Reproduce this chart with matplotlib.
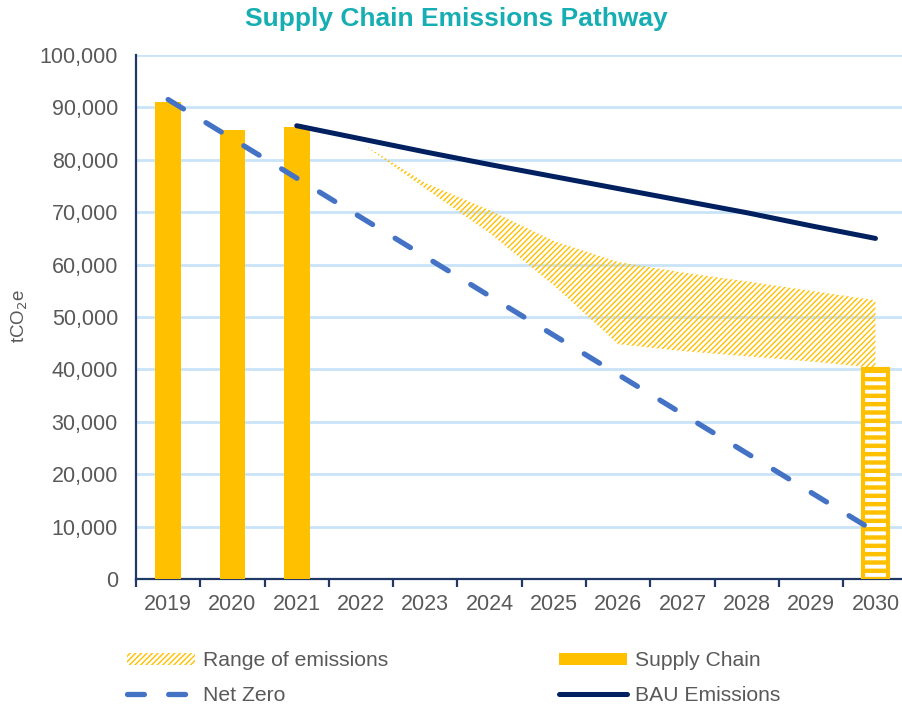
import matplotlib.pyplot as plt
from matplotlib.patches import Patch
from matplotlib.lines import Line2D

years = ['2019', '2020', '2021', '2022', '2023', '2024',
         '2025', '2026', '2027', '2028', '2029', '2030']

# supply chain actuals (2019-2021) and the 2030 target bar
supply_chain = [91000, 85700, 86300]
target_2030 = 40000

net_zero = [91500, 84000, 76500, 69000, 61500, 54000,
            46500, 39000, 31500, 24000, 16500, 9000]

# BAU starts in 2021
bau = [86500, 84000, 81500, 79100, 76800, 74500, 72200, 69900, 67400, 65000]

# range of emissions, 2022-2030
range_upper = [83200, 75600, 70400, 64500, 60500, 58500, 56800, 55000, 53200]
range_lower = [83200, 74500, 66000, 56000, 44800, 43500, 42500, 41500, 40300]

yellow = '#FFC000'
blue = '#4472C4'
navy = '#002060'
grey = '#595959'

plt.rcParams['font.family'] = ['Liberation Sans', 'DejaVu Sans']

fig = plt.figure(figsize=(9.03, 7.08), dpi=100)
ax = fig.add_axes([0.1506, 0.1822, 0.8545, 0.7401])

x = list(range(len(years)))

# gridlines
ax.set_ylim(0, 100000)
ax.set_xlim(-0.5, len(years) - 0.5)
ax.set_yticks(range(0, 100001, 10000))
ax.yaxis.grid(True, color='#C9E3F8', linewidth=2)
ax.set_axisbelow(True)

# range of emissions (hatched band)
band = ax.fill_between(x[3:], range_lower, range_upper, facecolor='none',
                       edgecolor=yellow, hatch='//////', linewidth=0, zorder=2)
if hasattr(band, 'set_hatch_linewidth'):
    band.set_hatch_linewidth(1.0)

# supply chain bars
ax.bar(x[:3], supply_chain, width=0.40, color=yellow, zorder=3)
tb = ax.bar([x[-1]], [target_2030], width=0.40, facecolor='white',
            edgecolor=yellow, hatch='--', linewidth=3, zorder=3)
for p in tb:
    if hasattr(p, 'set_hatch_linewidth'):
        p.set_hatch_linewidth(3.2)

# lines
ax.plot(x, net_zero, color=blue, linewidth=3.8, dashes=(3.4, 5.0),
        dash_capstyle='round', zorder=4)
ax.plot(x[2:], bau, color=navy, linewidth=3.6, solid_capstyle='round', zorder=5)

# axes styling
for s in ['top', 'right']:
    ax.spines[s].set_visible(False)
for s in ['left', 'bottom']:
    ax.spines[s].set_color('#1F3864')
    ax.spines[s].set_linewidth(1.6)

ax.set_xticks([i - 0.5 for i in range(len(years) + 1)])
ax.set_xticklabels([])
ax.set_xticks(x, minor=True)
ax.set_xticklabels(years, minor=True)
ax.tick_params(axis='x', which='major', length=6, width=1.6, color='#1F3864', direction='out')
ax.tick_params(axis='x', which='minor', length=0, pad=11, labelsize=15.5, labelcolor=grey)
ax.tick_params(axis='y', length=0, pad=13, labelsize=15.5, labelcolor=grey)
ax.set_yticklabels(['{:,}'.format(v) for v in range(0, 100001, 10000)])

fig.text(0.022, 0.553, 'tCO$_2$e', rotation=90, ha='center', va='center',
         fontsize=13.5, color=grey)

fig.text(0.505, 0.973, 'Supply Chain Emissions Pathway', ha='center', va='center',
         fontsize=19, fontweight='bold', color='#17AEB3')

# legend
handles = [
    Patch(facecolor='none', edgecolor=yellow, hatch='//////', linewidth=0),
    Line2D([], [], color=blue, linewidth=3.8, dashes=(3.2, 4.6), dash_capstyle='round'),
    Patch(facecolor=yellow, edgecolor='none'),
    Line2D([], [], color=navy, linewidth=3.6, solid_capstyle='round'),
]
labels = ['Range of emissions', 'Net Zero', 'Supply Chain', 'BAU Emissions']
leg = fig.legend(handles, labels, ncol=2, loc='upper left',
                 bbox_to_anchor=(0.1406, 0.080), frameon=False,
                 fontsize=15.2, handlelength=3.2, handleheight=0.55,
                 handletextpad=0.4, columnspacing=8.1, labelspacing=0.72,
                 borderpad=0, borderaxespad=0)
for t in leg.get_texts():
    t.set_color(grey)

fig.savefig('out.png', dpi=100)
